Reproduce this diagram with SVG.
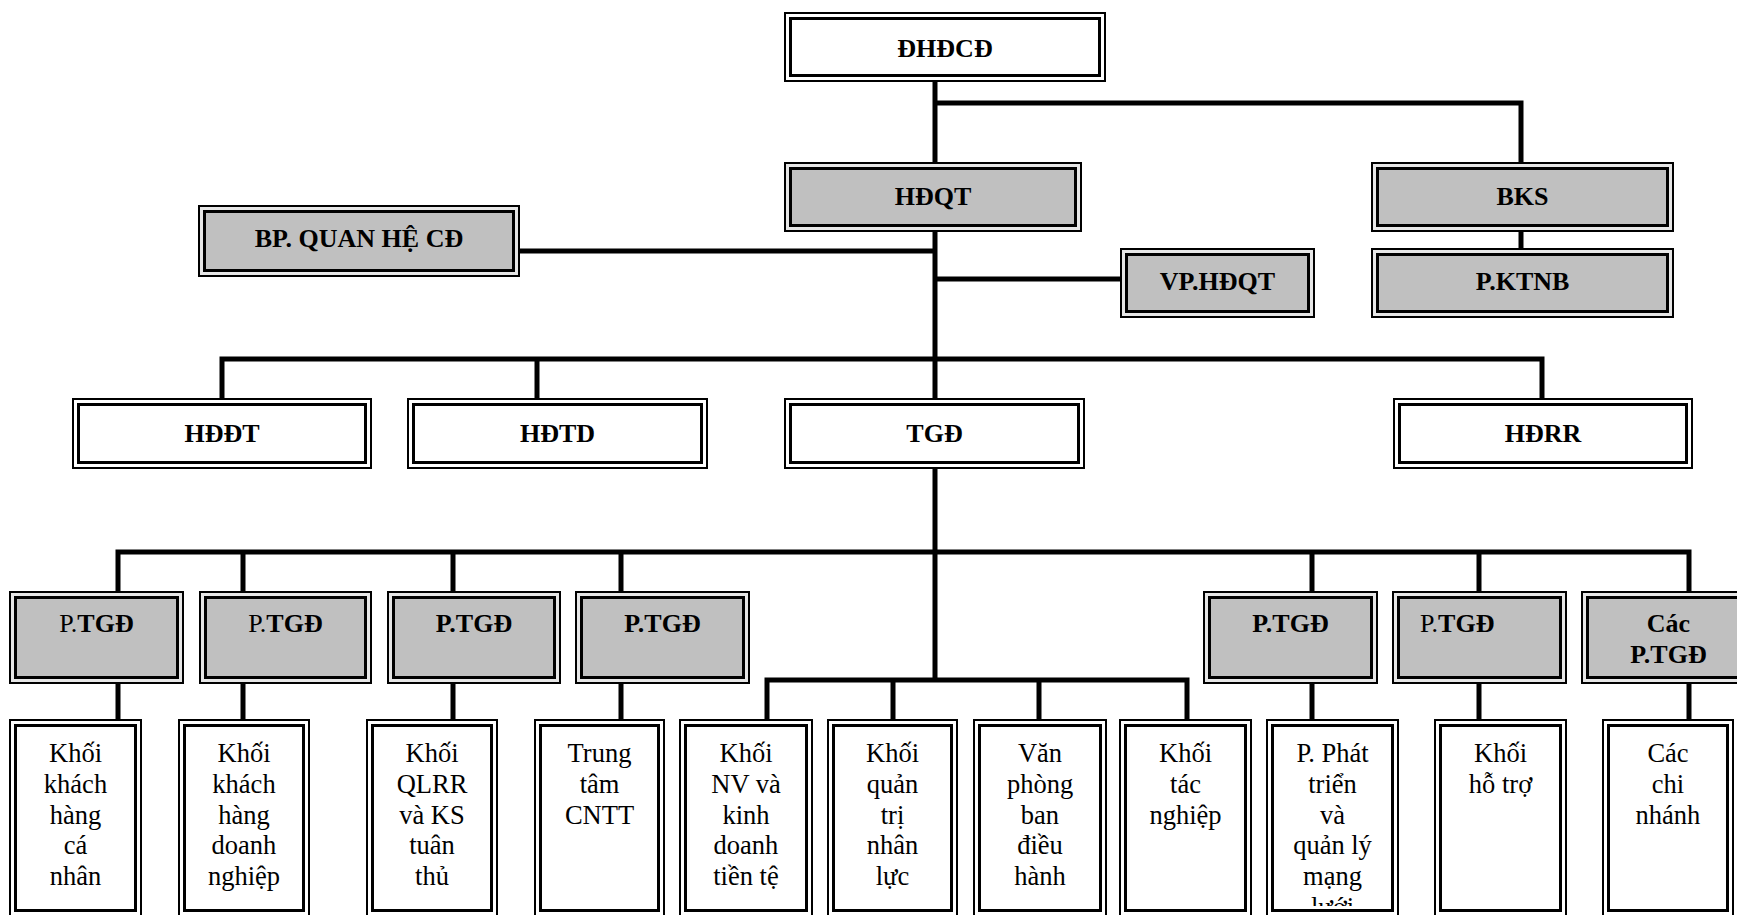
<svg xmlns="http://www.w3.org/2000/svg" width="1737" height="915" viewBox="0 0 1737 915">
<defs>
<style>
.o{fill:#fff;stroke:#000;stroke-width:2}
.og{fill:#e6e6e6;stroke:#000;stroke-width:2}
.i{fill:#fff;stroke:#000;stroke-width:3}
.ig{fill:#c0c0c0;stroke:#000;stroke-width:3}
.h{font-family:"Liberation Serif","Times New Roman",serif;font-weight:bold;font-size:26px;text-anchor:middle;fill:#000}
.r{font-weight:normal}
.t{font-family:"Liberation Serif","Times New Roman",serif;font-size:26.5px;text-anchor:middle;fill:#000}
.c{fill:none;stroke:#000;stroke-width:5;stroke-linejoin:miter;stroke-linecap:butt}
</style>
<clipPath id="clip9"><rect x="1272" y="725" width="121" height="181"/></clipPath>
</defs>
<rect width="1737" height="915" fill="#fff"/>

<g id="connectors">
<path class="c" d="M935 82V162"/>
<path class="c" d="M935 103H1521V162"/>
<path class="c" d="M1521 232V248"/>
<path class="c" d="M935 232V398"/>
<path class="c" d="M520 251H935"/>
<path class="c" d="M935 279H1120"/>
<path class="c" d="M222 398V359H1542V398"/>
<path class="c" d="M537 359V398"/>
<path class="c" d="M935 469V680"/>
<path class="c" d="M118 591V552H1689V591"/>
<path class="c" d="M243 552V591M453 552V591M621 552V591M1312 552V591M1479 552V591"/>
<path class="c" d="M118 684V719M243 684V719M453 684V719M621 684V719M1312 684V719M1479 684V719M1689 684V719"/>
<path class="c" d="M767 719V680H1187V719"/>
<path class="c" d="M893 680V719M1039 680V719"/>
</g>

<g id="dhdcd"><rect class="o" x="785" y="13" width="320" height="68"/><rect class="i" x="790.5" y="18.5" width="309" height="57"/><text class="h" x="945" y="57">ĐHĐCĐ</text></g>
<g id="hdqt"><rect class="og" x="785" y="163" width="296" height="68"/><rect class="ig" x="790.5" y="168.5" width="285" height="57"/><text class="h" x="933" y="205">HĐQT</text></g>
<g id="bks"><rect class="og" x="1372" y="163" width="301" height="68"/><rect class="ig" x="1377.5" y="168.5" width="290" height="57"/><text class="h" x="1522.5" y="205">BKS</text></g>
<g id="bp"><rect class="og" x="199" y="206" width="320" height="70"/><rect class="ig" x="204.5" y="211.5" width="309" height="59"/><text class="h" x="359" y="247">BP. QUAN HỆ CĐ</text></g>
<g id="vphdqt"><rect class="og" x="1121" y="249" width="193" height="68"/><rect class="ig" x="1126.5" y="254.5" width="182" height="57"/><text class="h" x="1217.5" y="290">VP.HĐQT</text></g>
<g id="pktnb"><rect class="og" x="1372" y="249" width="301" height="68"/><rect class="ig" x="1377.5" y="254.5" width="290" height="57"/><text class="h" x="1522.5" y="290">P.KTNB</text></g>

<g id="hddt"><rect class="o" x="73" y="399" width="298" height="69"/><rect class="i" x="78.5" y="404.5" width="287" height="58"/><text class="h" x="222" y="442">HĐĐT</text></g>
<g id="hdtd"><rect class="o" x="408" y="399" width="299" height="69"/><rect class="i" x="413.5" y="404.5" width="288" height="58"/><text class="h" x="557.5" y="442">HĐTD</text></g>
<g id="tgd"><rect class="o" x="785" y="399" width="299" height="69"/><rect class="i" x="790.5" y="404.5" width="288" height="58"/><text class="h" x="934.5" y="442">TGĐ</text></g>
<g id="hdrr"><rect class="o" x="1394" y="399" width="298" height="69"/><rect class="i" x="1399.5" y="404.5" width="287" height="58"/><text class="h" x="1543" y="442">HĐRR</text></g>

<g id="ptgd1"><rect class="og" x="10" y="592" width="173" height="91"/><rect class="ig" x="15.5" y="597.5" width="162" height="80"/><text class="h" x="96.5" y="632"><tspan class="r">P.</tspan>TGĐ</text></g>
<g id="ptgd2"><rect class="og" x="200" y="592" width="171" height="91"/><rect class="ig" x="205.5" y="597.5" width="160" height="80"/><text class="h" x="285.5" y="632"><tspan class="r">P.</tspan>TGĐ</text></g>
<g id="ptgd3"><rect class="og" x="388" y="592" width="172" height="91"/><rect class="ig" x="393.5" y="597.5" width="161" height="80"/><text class="h" x="474" y="632">P.TGĐ</text></g>
<g id="ptgd4"><rect class="og" x="576" y="592" width="173" height="91"/><rect class="ig" x="581.5" y="597.5" width="162" height="80"/><text class="h" x="662.5" y="632">P.TGĐ</text></g>
<g id="ptgd5"><rect class="og" x="1204" y="592" width="173" height="91"/><rect class="ig" x="1209.5" y="597.5" width="162" height="80"/><text class="h" x="1290.5" y="632">P.TGĐ</text></g>
<g id="ptgd6"><rect class="og" x="1393" y="592" width="173" height="91"/><rect class="ig" x="1398.5" y="597.5" width="162" height="80"/><text class="h" x="1420" y="632" style="text-anchor:start"><tspan class="r">P.</tspan>TGĐ</text></g>
<g id="ptgd7"><rect class="og" x="1582" y="592" width="173" height="91"/><rect class="ig" x="1587.5" y="597.5" width="162" height="80"/><text class="h" x="1668.5" y="632">Các</text><text class="h" x="1668.5" y="663">P.TGĐ</text></g>

<g id="khcn"><rect class="o" x="10" y="720" width="131" height="196"/><rect class="i" x="15.5" y="725.5" width="120" height="185"/>
<text class="t" y="762"><tspan x="75.5">Khối</tspan><tspan x="75.5" dy="30.75">khách</tspan><tspan x="75.5" dy="30.75">hàng</tspan><tspan x="75.5" dy="30.75">cá</tspan><tspan x="75.5" dy="30.75">nhân</tspan></text></g>
<g id="khdn"><rect class="o" x="179" y="720" width="130" height="196"/><rect class="i" x="184.5" y="725.5" width="119" height="185"/>
<text class="t" y="762"><tspan x="244">Khối</tspan><tspan x="244" dy="30.75">khách</tspan><tspan x="244" dy="30.75">hàng</tspan><tspan x="244" dy="30.75">doanh</tspan><tspan x="244" dy="30.75">nghiệp</tspan></text></g>
<g id="qlrr"><rect class="o" x="367" y="720" width="130" height="196"/><rect class="i" x="372.5" y="725.5" width="119" height="185"/>
<text class="t" y="762"><tspan x="432">Khối</tspan><tspan x="432" dy="30.75">QLRR</tspan><tspan x="432" dy="30.75">và KS</tspan><tspan x="432" dy="30.75">tuân</tspan><tspan x="432" dy="30.75">thủ</tspan></text></g>
<g id="cntt"><rect class="o" x="535" y="720" width="129" height="196"/><rect class="i" x="540.5" y="725.5" width="118" height="185"/>
<text class="t" y="762"><tspan x="599.5">Trung</tspan><tspan x="599.5" dy="30.75">tâm</tspan><tspan x="599.5" dy="30.75">CNTT</tspan></text></g>
<g id="nvkd"><rect class="o" x="680" y="720" width="132" height="196"/><rect class="i" x="685.5" y="725.5" width="121" height="185"/>
<text class="t" y="762"><tspan x="746">Khối</tspan><tspan x="746" dy="30.75">NV và</tspan><tspan x="746" dy="30.75">kinh</tspan><tspan x="746" dy="30.75">doanh</tspan><tspan x="746" dy="30.75">tiền tệ</tspan></text></g>
<g id="qtnl"><rect class="o" x="828" y="720" width="129" height="196"/><rect class="i" x="833.5" y="725.5" width="118" height="185"/>
<text class="t" y="762"><tspan x="892.5">Khối</tspan><tspan x="892.5" dy="30.75">quản</tspan><tspan x="892.5" dy="30.75">trị</tspan><tspan x="892.5" dy="30.75">nhân</tspan><tspan x="892.5" dy="30.75">lực</tspan></text></g>
<g id="vpbdh"><rect class="o" x="974" y="720" width="132" height="196"/><rect class="i" x="979.5" y="725.5" width="121" height="185"/>
<text class="t" y="762"><tspan x="1040">Văn</tspan><tspan x="1040" dy="30.75">phòng</tspan><tspan x="1040" dy="30.75">ban</tspan><tspan x="1040" dy="30.75">điều</tspan><tspan x="1040" dy="30.75">hành</tspan></text></g>
<g id="tacnghiep"><rect class="o" x="1120" y="720" width="131" height="196"/><rect class="i" x="1125.5" y="725.5" width="120" height="185"/>
<text class="t" y="762"><tspan x="1185.5">Khối</tspan><tspan x="1185.5" dy="30.75">tác</tspan><tspan x="1185.5" dy="30.75">nghiệp</tspan></text></g>
<g id="ptqlml"><rect class="o" x="1267" y="720" width="131" height="196"/><rect class="i" x="1272.5" y="725.5" width="120" height="185"/>
<text class="t" y="762" clip-path="url(#clip9)"><tspan x="1332.5">P. Phát</tspan><tspan x="1332.5" dy="30.75">triển</tspan><tspan x="1332.5" dy="30.75">và</tspan><tspan x="1332.5" dy="30.75">quản lý</tspan><tspan x="1332.5" dy="30.75">mạng</tspan><tspan x="1332.5" dy="30.75">lưới</tspan></text></g>
<g id="hotro"><rect class="o" x="1435" y="720" width="131" height="196"/><rect class="i" x="1440.5" y="725.5" width="120" height="185"/>
<text class="t" y="762"><tspan x="1500.5">Khối</tspan><tspan x="1500.5" dy="30.75">hỗ trợ</tspan></text></g>
<g id="chinhanh"><rect class="o" x="1603" y="720" width="130" height="196"/><rect class="i" x="1608.5" y="725.5" width="119" height="185"/>
<text class="t" y="762"><tspan x="1668">Các</tspan><tspan x="1668" dy="30.75">chi</tspan><tspan x="1668" dy="30.75">nhánh</tspan></text></g>
</svg>
